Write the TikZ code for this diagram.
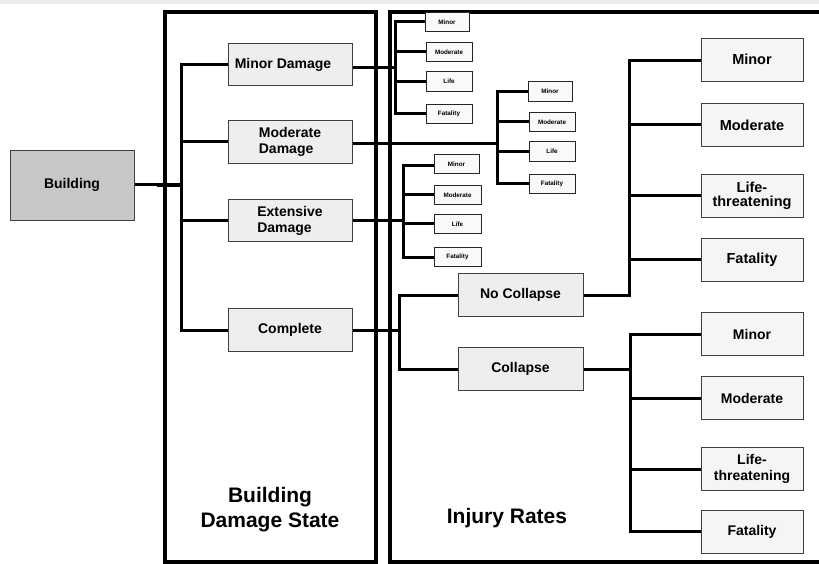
\documentclass[tikz,border=0pt]{standalone}
\usepackage{fontspec}
\setmainfont{Liberation Sans}
\usetikzlibrary{backgrounds,calc}
\definecolor{bldgray}{RGB}{199,199,199}
\definecolor{dmgfill}{RGB}{238,238,238}
\definecolor{injfill}{RGB}{245,245,245}
\definecolor{tinyfill}{RGB}{249,249,249}
\definecolor{bandgray}{RGB}{236,236,236}
\begin{document}
\begin{tikzpicture}[x=1pt,y=-1pt,
  wire/.style={line width=3pt, line cap=rect, line join=miter},
  frame/.style={line width=3.2pt, line join=miter},
  box/.style={draw=black!75, line width=0.8pt, inner sep=0pt, align=center,
    font=\bfseries\fontsize{14}{16}\selectfont},
  dmgbox/.style={box, fill=dmgfill, minimum width=124pt, minimum height=42.5pt},
  injbox/.style={box, fill=injfill, minimum width=102pt, minimum height=43pt},
  tinybox/.style={draw=black!85, line width=1pt, fill=tinyfill, inner sep=0pt,
    minimum height=19.5pt, font=\bfseries\fontsize{6.3}{7}\selectfont},
  title/.style={font=\bfseries\fontsize{21}{25}\selectfont, align=center}]
\useasboundingbox (0,0) rectangle (819,564);

% the two panels
\draw[frame] (165,12) rectangle (376,562);
\draw[frame] (819,12) -- (390,12) -- (390,562) -- (819,562);
\node[title] (bdslabel) at (270,510) {Building\\Damage State};
\node[title] (irlabel) at (507,518) {Injury Rates};

% building and damage states
\node[box, fill=bldgray, minimum width=124pt, minimum height=70pt] (bld) at (72,185) {Building};
\node[dmgbox] (mnd) at (290,64.5) {Minor Damage\hspace*{14pt}};
\node[dmgbox, align=left] (mod) at (290,142) {Moderate\\Damage};
\node[dmgbox, align=left] (ext) at (290,220.5) {Extensive\\Damage};
\node[dmgbox] (cpl) at (290,330) {Complete};

% injury levels for minor damage
\node[tinybox, minimum width=44pt] (g1a) at (447,22) {Minor};
\node[tinybox, minimum width=46pt] (g1b) at (449,52) {Moderate};
\node[tinybox, minimum width=46pt] (g1c) at (449,81.5) {Life};
\node[tinybox, minimum width=46pt] (g1d) at (449,114) {Fatality};

% injury levels for moderate damage
\node[tinybox, minimum width=44pt] (g2a) at (550,91.5) {Minor};
\node[tinybox, minimum width=46pt] (g2b) at (552,122) {Moderate};
\node[tinybox, minimum width=46pt] (g2c) at (552,151.5) {Life};
\node[tinybox, minimum width=46pt] (g2d) at (552,184) {Fatality};

% injury levels for extensive damage
\node[tinybox, minimum width=45pt] (g3a) at (456.5,164) {Minor};
\node[tinybox, minimum width=47pt] (g3b) at (457.5,195) {Moderate};
\node[tinybox, minimum width=47pt] (g3c) at (457.5,224) {Life};
\node[tinybox, minimum width=47pt] (g3d) at (457.5,257) {Fatality};

% complete damage: collapse or not
\node[dmgbox, minimum width=125pt] (nc) at (520.5,295) {No Collapse};
\node[dmgbox, minimum width=125pt] (col) at (520.5,369) {Collapse};

\node[injbox, font=\bfseries\fontsize{14.5}{16}\selectfont] (ga1) at (752,59.5) {Minor};
\node[injbox, font=\bfseries\fontsize{14.5}{16}\selectfont] (ga2) at (752,125) {Moderate};
\node[injbox, font=\bfseries\fontsize{14.5}{13.5}\selectfont] (ga3) at (752,196) {Life-\\threatening};
\node[injbox, font=\bfseries\fontsize{14.5}{16}\selectfont] (ga4) at (752,259.5) {Fatality};

\node[injbox] (gb1) at (752,334) {Minor};
\node[injbox] (gb2) at (752,398) {Moderate};
\node[injbox, font=\bfseries\fontsize{14}{15.5}\selectfont] (gb3) at (752,469) {Life-\\threatening};
\node[injbox] (gb4) at (752,531.5) {Fatality};

% trunk positions
\coordinate (tD) at (181,0);
\coordinate (t1) at (395,0);
\coordinate (t2) at (497,0);
\coordinate (t3) at (403,0);
\coordinate (tC) at (399,0);
\coordinate (tA) at (629,0);
\coordinate (tB) at (630,0);

\begin{scope}[on background layer]
  % building to damage states
  \draw[wire] (bld.east) -- (tD |- bld.east);
  \draw[line width=4pt] ($(tD |- bld.east)+(-24,0)$) -- (tD |- bld.east);
  \draw[wire] (tD |- mnd.west) -- (tD |- cpl.west);
  \foreach \n in {mnd,mod,ext,cpl} \draw[wire] (tD |- \n.west) -- (\n.west);

  % minor damage
  \coordinate (m1) at ($(mnd.east)+(0,3.5)$);
  \draw[wire] (m1) -- (t1 |- m1);
  \draw[wire] (t1 |- g1a.west) -- (t1 |- g1d.west);
  \foreach \n in {g1a,g1b,g1c,g1d} \draw[wire] (t1 |- \n.west) -- (\n.west);

  % moderate damage
  \coordinate (m2) at ($(mod.east)+(0,2)$);
  \draw[wire] (m2) -- (t2 |- m2);
  \draw[wire] (t2 |- g2a.west) -- (t2 |- g2d.west);
  \foreach \n in {g2a,g2b,g2c,g2d} \draw[wire] (t2 |- \n.west) -- (\n.west);

  % extensive damage
  \draw[wire] (ext.east) -- (t3 |- ext.east);
  \coordinate (m3) at ($(g3a.west)+(0,2)$);
  \draw[wire] (t3 |- m3) -- (t3 |- g3d.west);
  \draw[wire] (t3 |- m3) -- (m3);
  \foreach \n in {g3b,g3c,g3d} \draw[wire] (t3 |- \n.west) -- (\n.west);

  % complete damage
  \draw[wire] (cpl.east) -- (tC |- cpl.east);
  \draw[wire] (tC |- nc.west) -- (tC |- col.west);
  \foreach \n in {nc,col} \draw[wire] (tC |- \n.west) -- (\n.west);

  % no collapse
  \draw[wire] (nc.east) -- (tA |- nc.east);
  \coordinate (a1) at ($(ga1.west)+(0,1.5)$);
  \draw[wire] (tA |- a1) -- (tA |- nc.east);
  \draw[wire] (tA |- a1) -- (a1);
  \foreach \n in {ga2,ga3,ga4} \draw[wire] (tA |- \n.west) -- (\n.west);

  % collapse
  \draw[wire] (col.east) -- (tB |- col.east);
  \draw[wire] (tB |- gb1.west) -- (tB |- gb4.west);
  \foreach \n in {gb1,gb2,gb3,gb4} \draw[wire] (tB |- \n.west) -- (\n.west);

  % light strip along the top edge
  \fill[bandgray] (0,0) rectangle (819,4.5);
\end{scope}
\end{tikzpicture}
\end{document}
